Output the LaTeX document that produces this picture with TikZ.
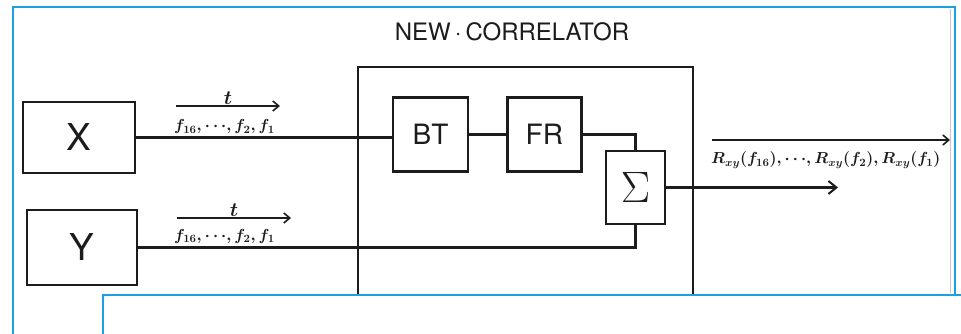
\RequirePackage{fix-cm}
\documentclass[tikz,border=0pt]{standalone}
\usepackage{amsmath}
\usepackage{fontspec}
\setsansfont{TeX Gyre Heros}
\definecolor{clFrame}{HTML}{1BA1DB}
\definecolor{clInk}{HTML}{1C1C1C}
\usetikzlibrary{arrows.meta,positioning,calc}
\tikzset{
  block/.style={rectangle, draw=clInk, line width=2.4pt, align=center, inner sep=0pt,
                minimum width=75pt, minimum height=74pt, text=clInk,
                font=\sffamily\fontsize{28}{30}\selectfont},
  inbox/.style={block, font=\sffamily\fontsize{37}{40}\selectfont},
  sumbox/.style={block, minimum width=59pt, minimum height=73pt,
                 font=\fontsize{44}{46}\selectfont},
  corrbox/.style={rectangle, draw=clInk, line width=2.2pt, inner sep=0pt},
  title/.style={font=\sffamily\fontsize{24}{26}\selectfont, text=clInk},
  wire/.style={draw=clInk, line width=2.2pt},
  flow/.style={wire, -{Straight Barb[length=8pt, width=13pt, line width=2pt]}},
  tarrow/.style={draw=clInk, line width=1.8pt, -{Straight Barb[length=6pt, width=10pt, line width=1.6pt]}},
  tlabel/.style={font=\fontsize{20}{22}\selectfont\boldmath, inner sep=1pt, text=clInk},
  flabel/.style={font=\fontsize{16}{18}\selectfont\boldmath, inner sep=0pt, anchor=base west, text=clInk},
  frame/.style={draw=clFrame, line width=2pt},
}
\begin{document}
\begin{tikzpicture}[x=1pt, y=-1pt]
  \useasboundingbox (0,0) rectangle (961,334);
  \draw[frame] (13,7) rectangle (955,380);
  \draw[gray!45, line width=0.8pt] (950,9) -- (950,293);
  \node[title] (ttl) at (512,32) {NEW\,·\,CORRELATOR};
  \node[corrbox, anchor=north west, minimum width=335pt, minimum height=250pt] (corr) at (357,66) {};
  \node[inbox, minimum width=112pt, minimum height=71pt] (xin) at (79,137.5) {X};
  \node[inbox, minimum width=110pt, minimum height=75pt] (yin) at (82,247.5) {Y};
  \node[block] (bt) at (430.5,134.5) {BT};
  \node[block, minimum width=74pt, right=37pt of bt] (fr) {FR};
  \node[sumbox] (sum) at (635.5,187.5) {$\Sigma$};
  \coordinate (rout) at (838,187.5);
  \draw[wire] (xin) -- (xin -| bt.west);
  \draw[wire] (bt) -- (fr);
  \draw[wire] (fr.east) -| (sum.north);
  \draw[wire] (yin.east) -| (sum.south);
  \draw[flow] (sum) -- (rout);
  \coordinate (xt0) at (176,106); \coordinate (xt1) at (280,106);
  \draw[tarrow] (xt0) -- node[tlabel, above] (xtl) {$t$} (xt1);
  \node[flabel] (xf) at (174,131) {$f_{16},{\cdots},f_2,f_1$};
  \coordinate (yt0) at (177,218); \coordinate (yt1) at (291,218);
  \draw[tarrow] (yt0) -- node[tlabel, above] (ytl) {$t$} (yt1);
  \node[flabel] (yf) at (174,240) {$f_{16},{\cdots},f_2,f_1$};
  \coordinate (rt0) at (712,140); \coordinate (rt1) at (950,140);
  \draw[tarrow] (rt0) -- (rt1);
  \node[flabel] (rf) at (711,164) {$R_{xy}(f_{16}),{\cdots},R_{xy}(f_2),R_{xy}(f_1)$};
  \draw[frame, fill=white] (103,295) rectangle (990,380);
\end{tikzpicture}
\end{document}
